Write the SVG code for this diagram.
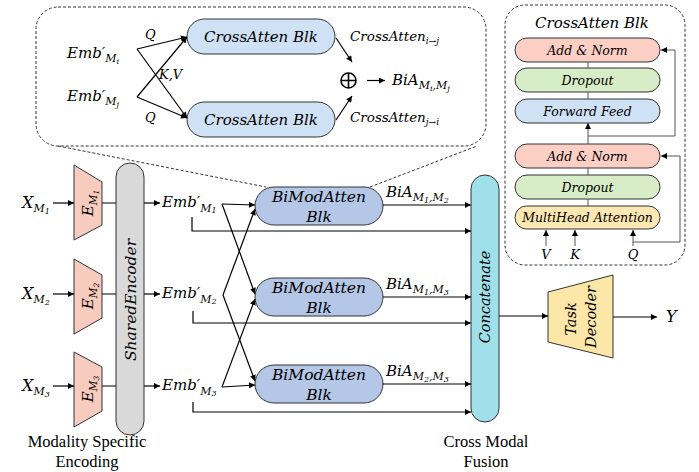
<svg xmlns="http://www.w3.org/2000/svg" width="699" height="472" viewBox="0 0 699 472">
<defs>
<marker id="ah" viewBox="0 0 10 10" refX="10" refY="5" markerWidth="8" markerHeight="6" orient="auto" markerUnits="userSpaceOnUse"><path d="M0,0 L10,5 L0,10 z" fill="#000"/></marker>
<style>
.m{font-family:"DejaVu Serif",serif;font-style:italic;fill:#000}
.t{font-family:"Liberation Serif","Times New Roman",serif;fill:#000}
.ln{fill:none;stroke:#000;stroke-width:1.2}
.ar{fill:none;stroke:#000;stroke-width:1.2;marker-end:url(#ah)}
.gl{fill:none;stroke:#555;stroke-width:1}
.ga{fill:none;stroke:#555;stroke-width:1;marker-end:url(#ah)}
.dash{fill:none;stroke:#333;stroke-width:1;stroke-dasharray:3 2}
.pill{stroke:#333;stroke-width:1}
</style>
</defs>
<rect width="699" height="472" fill="#fff"/>

<!-- Top detail box: BiModAtten block -->
<g id="bimod-detail">
<rect class="dash" x="36" y="7" width="450" height="139" rx="22"/>
<path class="dash" d="M58,146 L266,187 M370,187 L477,146"/>
<g id="emb-mi"><text class="m" x="67" y="58" font-size="15">Emb′<tspan font-size="11" dy="4">M</tspan><tspan font-size="8" dy="2">i</tspan></text></g>
<g id="emb-mj"><text class="m" x="67" y="101" font-size="15">Emb′<tspan font-size="11" dy="4">M</tspan><tspan font-size="8" dy="2">j</tspan></text></g>
<g id="ca-top"><rect class="pill" x="187" y="19" width="148" height="35" rx="17.5" fill="#cfe1f5"/><text class="m" x="261" y="42" font-size="15" text-anchor="middle">CrossAtten Blk</text></g>
<g id="ca-bot"><rect class="pill" x="187" y="102" width="148" height="35" rx="17.5" fill="#cfe1f5"/><text class="m" x="261" y="125" font-size="15" text-anchor="middle">CrossAtten Blk</text></g>
<g id="oplus"><circle cx="348.5" cy="80.5" r="7.5" fill="#fff" stroke="#000" stroke-width="1.6"/><path d="M341,80.5 H356 M348.5,73 V88" stroke="#000" stroke-width="1.6"/></g>
<g id="detail-connectors">
<path class="ar" d="M137,49 L187,37"/>
<path class="ar" d="M137,49 L187,118"/>
<path class="ar" d="M137,97 L187,37"/>
<path class="ar" d="M137,97 L187,118"/>
<path class="ar" d="M336,38 L352,62"/>
<path class="ar" d="M336,120 L352,96"/>
<path class="ar" d="M367,80.5 L385,80.5"/>
</g>
<text class="m" x="145" y="39" font-size="13">Q</text>
<text class="m" x="159" y="79" font-size="13">K,V</text>
<text class="m" x="145" y="122" font-size="13">Q</text>
<text class="m" x="350" y="41" font-size="13.5">CrossAtten<tspan font-size="9" dy="3">i→j</tspan></text>
<text class="m" x="350" y="122" font-size="13.5">CrossAtten<tspan font-size="9" dy="3">j→i</tspan></text>
<text class="m" x="392" y="85" font-size="15">BiA<tspan font-size="11" dy="4">M</tspan><tspan font-size="8" dy="1.5">i</tspan><tspan font-size="11" dy="-1.5">,M</tspan><tspan font-size="8" dy="1.5">j</tspan></text>
</g>

<!-- Right detail box: CrossAtten Blk -->
<g id="crossatten-detail">
<rect class="dash" x="505" y="5" width="180" height="260" rx="20"/>
<text class="m" x="592" y="28" font-size="15" text-anchor="middle">CrossAtten Blk</text>
<g id="addnorm1"><rect class="pill" x="515" y="38" width="145" height="24" rx="12" fill="#fbcfc4"/><text class="m" x="587.5" y="54.5" font-size="12.5" text-anchor="middle">Add &amp; Norm</text></g>
<g id="dropout1"><rect class="pill" x="515" y="68" width="145" height="24" rx="12" fill="#d7edc8"/><text class="m" x="587.5" y="84.5" font-size="12.5" text-anchor="middle">Dropout</text></g>
<g id="ffeed"><rect class="pill" x="515" y="99" width="145" height="24" rx="12" fill="#cfe1f5"/><text class="m" x="587.5" y="115.5" font-size="12.5" text-anchor="middle">Forward Feed</text></g>
<g id="addnorm2"><rect class="pill" x="515" y="144" width="145" height="24" rx="12" fill="#fbcfc4"/><text class="m" x="587.5" y="160.5" font-size="12.5" text-anchor="middle">Add &amp; Norm</text></g>
<g id="dropout2"><rect class="pill" x="515" y="175" width="145" height="24" rx="12" fill="#d7edc8"/><text class="m" x="587.5" y="191.5" font-size="12.5" text-anchor="middle">Dropout</text></g>
<g id="mha"><rect class="pill" x="515" y="206" width="145" height="23" rx="11.5" fill="#fde7b3"/><text class="m" x="587.5" y="222" font-size="12.5" text-anchor="middle">MultiHead Attention</text></g>
<g id="ca-connectors">
<path class="gl" d="M588,62 V68 M588,92 V99 M588,168 V175 M588,199 V206"/>
<path class="ga" d="M588,144 V123"/>
<path class="ga" d="M588,136 H675 V50 H661"/>
<path class="ga" d="M633,242 H680 V156 H661"/>
<path class="ga" d="M546,246 V230"/>
<path class="ga" d="M575,246 V230"/>
<path class="ga" d="M633,246 V230"/>
</g>
<text class="m" x="546" y="259" font-size="13" text-anchor="middle">V</text>
<text class="m" x="575" y="259" font-size="13" text-anchor="middle">K</text>
<text class="m" x="633" y="259" font-size="13" text-anchor="middle">Q</text>
</g>

<!-- Inputs -->
<g id="x1"><text class="m" x="22" y="208" font-size="16">X<tspan font-size="11" dy="4">M</tspan><tspan font-size="8" dy="1.5">1</tspan></text></g>
<g id="x2"><text class="m" x="22" y="299" font-size="16">X<tspan font-size="11" dy="4">M</tspan><tspan font-size="8" dy="1.5">2</tspan></text></g>
<g id="x3"><text class="m" x="22" y="391" font-size="16">X<tspan font-size="11" dy="4">M</tspan><tspan font-size="8" dy="1.5">3</tspan></text></g>

<!-- Modality encoders -->
<g id="e1"><polygon points="74,165 102,182 102,225 74,240" fill="#f7cbbd" stroke="#333" stroke-width="1"/><text class="m" font-size="15" text-anchor="middle" transform="translate(93,203) rotate(-90)">E<tspan font-size="10.5" dy="4">M</tspan><tspan font-size="7.5" dy="1.5">1</tspan></text></g>
<g id="e2"><polygon points="74,259 102,275 102,318 74,334" fill="#f7cbbd" stroke="#333" stroke-width="1"/><text class="m" font-size="15" text-anchor="middle" transform="translate(93,296) rotate(-90)">E<tspan font-size="10.5" dy="4">M</tspan><tspan font-size="7.5" dy="1.5">2</tspan></text></g>
<g id="e3"><polygon points="74,352 102,367 102,411 74,427" fill="#f7cbbd" stroke="#333" stroke-width="1"/><text class="m" font-size="15" text-anchor="middle" transform="translate(93,389) rotate(-90)">E<tspan font-size="10.5" dy="4">M</tspan><tspan font-size="7.5" dy="1.5">3</tspan></text></g>

<!-- Shared encoder -->
<g id="shared"><rect class="pill" x="116" y="163" width="28" height="272" rx="14" fill="#d9d9d9"/><text class="m" font-size="15.5" text-anchor="middle" transform="translate(135.5,300) rotate(-90)">SharedEncoder</text></g>

<!-- Embeddings -->
<g id="emb1"><text class="m" x="162" y="207" font-size="15">Emb′<tspan font-size="11" dy="4.5">M</tspan><tspan font-size="8" dy="1.5">1</tspan></text></g>
<g id="emb2"><text class="m" x="162" y="298" font-size="15">Emb′<tspan font-size="11" dy="4.5">M</tspan><tspan font-size="8" dy="1.5">2</tspan></text></g>
<g id="emb3"><text class="m" x="162" y="390" font-size="15">Emb′<tspan font-size="11" dy="4.5">M</tspan><tspan font-size="8" dy="1.5">3</tspan></text></g>

<!-- BiModAtten blocks -->
<g id="bm1"><rect class="pill" x="255" y="187" width="128" height="38" rx="19" fill="#b4c7e7"/><text class="m" x="319" y="202" font-size="15.5" text-anchor="middle">BiModAtten</text><text class="m" x="319" y="222" font-size="15.5" text-anchor="middle">Blk</text></g>
<g id="bm2"><rect class="pill" x="255" y="278" width="128" height="38" rx="19" fill="#b4c7e7"/><text class="m" x="319" y="293" font-size="15.5" text-anchor="middle">BiModAtten</text><text class="m" x="319" y="313" font-size="15.5" text-anchor="middle">Blk</text></g>
<g id="bm3"><rect class="pill" x="255" y="365" width="128" height="38" rx="19" fill="#b4c7e7"/><text class="m" x="319" y="380" font-size="15.5" text-anchor="middle">BiModAtten</text><text class="m" x="319" y="400" font-size="15.5" text-anchor="middle">Blk</text></g>

<!-- Concatenate -->
<g id="concat"><rect class="pill" x="471" y="175" width="28" height="247" rx="14" fill="#a0e0ea"/><text class="m" font-size="14.5" text-anchor="middle" transform="translate(490,297) rotate(-90)">Concatenate</text></g>

<!-- Task decoder -->
<g id="decoder"><polygon points="548,292 613,275 613,358 548,342" fill="#fce7a8" stroke="#333" stroke-width="1"/><text class="m" font-size="14.5" text-anchor="middle" transform="translate(576,319) rotate(-90)">Task</text><text class="m" font-size="14.5" text-anchor="middle" transform="translate(596,317) rotate(-90)">Decoder</text></g>
<g id="y"><text class="m" x="666" y="322" font-size="16">Y</text></g>

<!-- Connectors -->
<g id="connectors">
<path class="ar" d="M53,203 H74"/>
<path class="ar" d="M53,294 H74"/>
<path class="ar" d="M53,386 H74"/>
<path class="ln" d="M102,203 H116 M102,294 H116 M102,386 H116"/>
<path class="ar" d="M144,203 H160"/>
<path class="ar" d="M144,294 H160"/>
<path class="ar" d="M144,386 H160"/>
<path class="ar" d="M222,204 L255,205"/>
<path class="ar" d="M222,204 L255,294"/>
<path class="ar" d="M223,295 L255,209"/>
<path class="ar" d="M223,295 L255,381"/>
<path class="ar" d="M222,387 L255,299"/>
<path class="ar" d="M222,387 L255,385"/>
<path class="ar" d="M192,217 V231 H471"/>
<path class="ar" d="M193,311 V323 H471"/>
<path class="ar" d="M193,402 V412 H471"/>
<path class="ar" d="M383,205 H471"/>
<path class="ar" d="M383,297 H471"/>
<path class="ar" d="M383,384 H471"/>
<path class="ar" d="M499,316 H548"/>
<path class="ar" d="M613,317 H657"/>
</g>
<text class="m" x="386" y="197" font-size="15">BiA<tspan font-size="11" dy="4">M</tspan><tspan font-size="8" dy="1.5">1</tspan><tspan font-size="11" dy="-1.5">,M</tspan><tspan font-size="8" dy="1.5">2</tspan></text>
<text class="m" x="386" y="289" font-size="15">BiA<tspan font-size="11" dy="4">M</tspan><tspan font-size="8" dy="1.5">1</tspan><tspan font-size="11" dy="-1.5">,M</tspan><tspan font-size="8" dy="1.5">3</tspan></text>
<text class="m" x="386" y="376" font-size="15">BiA<tspan font-size="11" dy="4">M</tspan><tspan font-size="8" dy="1.5">2</tspan><tspan font-size="11" dy="-1.5">,M</tspan><tspan font-size="8" dy="1.5">3</tspan></text>

<!-- Captions -->
<text class="t" x="87" y="447" font-size="16.5" text-anchor="middle">Modality Specific</text>
<text class="t" x="87" y="467" font-size="16.5" text-anchor="middle">Encoding</text>
<text class="t" x="486" y="447" font-size="16.5" text-anchor="middle">Cross Modal</text>
<text class="t" x="486" y="467" font-size="16.5" text-anchor="middle">Fusion</text>
</svg>
